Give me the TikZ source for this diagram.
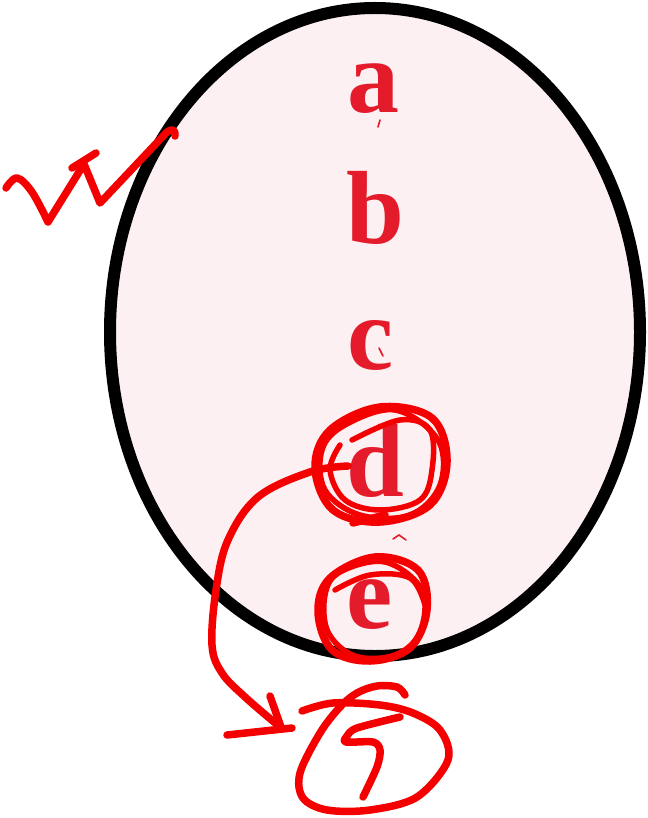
\documentclass[tikz,border=0pt]{standalone}
\usepackage{fontspec}
\setmainfont{Liberation Serif}
\definecolor{lettercol}{HTML}{E41B2B}
\definecolor{inkred}{HTML}{F50000}
\definecolor{pinkfill}{HTML}{FCF0F2}
\tikzset{
  scrib/.style={draw=inkred, line width=7.5pt, line cap=round, line join=round},
  thin scrib/.style={draw=inkred, line width=5.5pt, line cap=round, line join=round},
  letter/.style={anchor=base, text=lettercol, inner sep=0pt, font=\fontsize{104}{104}\selectfont\bfseries},
  tick/.style={draw=lettercol, line width=1.6pt, line cap=round}
}
\begin{document}
\begin{tikzpicture}[x=1pt,y=-1pt]
\useasboundingbox (0,0) rectangle (647,818);
% main ellipse
\draw[line width=12pt, fill=pinkfill] (375,332) ellipse [x radius=265, y radius=324];
% letters
\node[letter] (a) at (373,113) {a};
\node[letter] (b) at (375,243) {b};
\node[letter] (c) at (371,369) {c};
\node[letter] (d) at (375,496) {d};
\node[letter] (e) at (370,628) {e};
% small ticks
\draw[tick] (380,120) -- (378,127);
\draw[tick] (379,348) -- (383,356);
\draw[tick] (393,539) -- (399,535) -- (406,540);
% zigzag
\draw[scrib] plot[smooth, tension=0.6] coordinates {(6,188) (17,178) (32,192) (48,222)} -- (84,164) -- (100,203) -- (167,132) .. controls (172,128) and (176,130) .. (175,136);
\draw[scrib] (72,168) -- (96,153);
% circles around d
\draw[scrib] plot[smooth cycle, tension=0.6] coordinates {(330,430) (380,407) (432,418) (447,462) (430,505) (380,522) (333,510) (315,468)};
\draw[thin scrib] plot[smooth cycle, tension=0.6] coordinates {(345,425) (395,410) (438,440) (440,485) (410,515) (360,515) (325,490) (322,450)};
\draw[thin scrib] plot[smooth, tension=0.6] coordinates {(352,440) (400,420) (430,430) (432,470) (420,500) (380,510) (345,500) (330,470) (340,445)};
\draw[scrib] (353,523) -- (385,515);
% arrow from d
\draw[scrib] plot[smooth, tension=0.6] coordinates {(348,466) (310,472) (258,497) (228,540) (216,590) (212,645) (222,673) (245,697) (280,727)};
\draw[scrib] (270,696) -- (281,727);
\draw[scrib] (227,735) -- (292,728);
% circles around e
\draw[scrib] plot[smooth cycle, tension=0.6] coordinates {(330,578) (375,557) (418,570) (427,610) (410,648) (370,661) (332,650) (318,612)};
\draw[thin scrib] plot[smooth cycle, tension=0.6] coordinates {(340,572) (385,562) (422,590) (420,632) (395,655) (355,656) (328,632) (325,595)};
\draw[thin scrib] plot[smooth, tension=0.6] coordinates {(335,590) (370,575) (410,578) (425,605)};
% circled 5
\draw[scrib] plot[smooth, tension=0.55] coordinates {(405,695) (397,687) (377,686) (357,693) (340,707) (320,733) (300,773) (303,798) (327,810) (370,810) (417,797) (448,760) (440,730) (413,713) (380,705) (333,703) (302,711)};
\draw[scrib] plot[smooth, tension=0.5] coordinates {(400,717) (357,728) (347,736) (346,742) (373,742) (380,750) (377,767) (363,797)};
\end{tikzpicture}
\end{document}
